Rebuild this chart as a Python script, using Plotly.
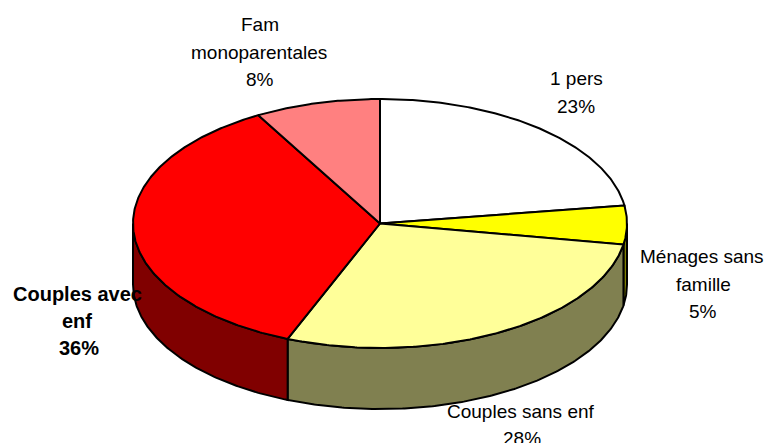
import numpy as np
import plotly.graph_objects as go

categories = ["1 pers", "Ménages sans famille", "Couples sans enf", "Couples avec enf", "Fam monoparentales"]
values = [22.7, 5.0, 28.4, 35.7, 8.2]
top_colors = ["#FFFFFF", "#FFFF00", "#FFFF99", "#FF0000", "#FF8080"]
side_colors = ["#808080", "#808000", "#808050", "#800000", "#804040"]

# label lines: (text, centre x px, centre y px, bold)
label_lines = [
    ("Fam", 260, 24, False), ("monoparentales", 259, 52, False), ("8%", 260, 79, False),
    ("1 pers", 576, 78, False), ("23%", 576, 106, False),
    ("Ménages sans", 702, 256, False), ("famille", 703, 284, False), ("5%", 703, 311, False),
    ("Couples sans enf", 521, 411, False), ("28%", 522, 438, False),
    ("Couples avec", 77, 294, True), ("enf", 77, 321, True), ("36%", 79, 348, True),
]

CX, CY, RX, RY, DEPTH = 380.0, 223.5, 247.0, 124.5, 61.0

def arc(a0, a1, dy=0.0):
    n = max(int(abs(a1 - a0)) * 2, 2)
    t = np.radians(np.linspace(a0, a1, n))
    return CX + RX * np.sin(t), CY - RY * np.cos(t) + dy

fig = go.Figure()
total = sum(values)
edges = np.cumsum([0] + values) / total * 360.0
line = dict(color="black", width=2)

# side walls (only the front half of the ellipse is visible)
for i in range(len(values)):
    a0, a1 = max(edges[i], 90.0), min(edges[i + 1], 270.0)
    if a1 <= a0:
        continue
    xt, yt = arc(a0, a1)
    xb, yb = arc(a1, a0, DEPTH)
    fig.add_trace(go.Scatter(x=np.r_[xt, xb, xt[0]], y=np.r_[yt, yb, yt[0]], mode="lines",
                             fill="toself", fillcolor=side_colors[i], line=line,
                             hoverinfo="skip", showlegend=False))

# top faces
for i in range(len(values)):
    xt, yt = arc(edges[i], edges[i + 1])
    fig.add_trace(go.Scatter(x=np.r_[CX, xt, CX], y=np.r_[CY, yt, CY], mode="lines",
                             fill="toself", fillcolor=top_colors[i], line=line,
                             name=categories[i], hoverinfo="skip", showlegend=False))

for text, x, y, bold in label_lines:
    fig.add_annotation(x=x, y=y, text=f"<b>{text}</b>" if bold else text, showarrow=False,
                       xanchor="center", yanchor="middle",
                       font=dict(family="Liberation Sans, Arial, sans-serif", size=20 if bold else 19, color="black"))

fig.update_layout(width=768, height=443, margin=dict(l=0, r=0, t=0, b=0),
                  paper_bgcolor="white", plot_bgcolor="white",
                  xaxis=dict(range=[0, 768], visible=False, fixedrange=True),
                  yaxis=dict(range=[443, 0], visible=False, fixedrange=True))
fig.write_html("out.html", config={"displayModeBar": False},
               post_script="document.body.style.margin='0';document.body.style.overflow='hidden';")
